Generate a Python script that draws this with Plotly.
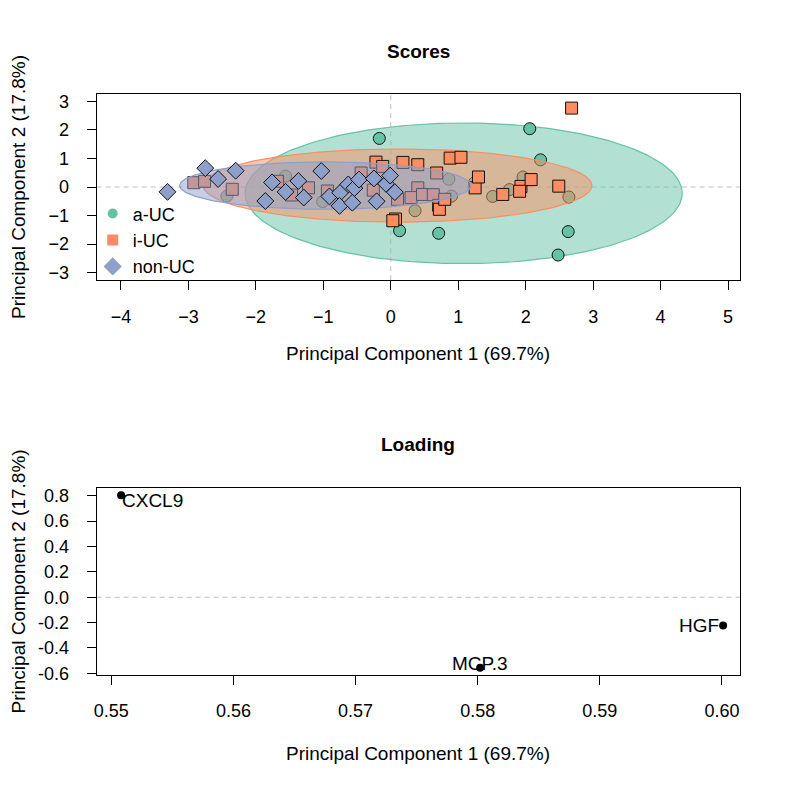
import numpy as np
import plotly.graph_objects as go

# ---------------- data ----------------
auc_pc1 = [-2.43, -1.56, -1.01, -0.17, 0.13, 0.36, 0.71, 0.86, 0.90, 1.24, 1.51, 1.76, 1.96, 2.06, 2.22, 2.64, 2.63, 2.48]
auc_pc2 = [-0.32, 0.38, -0.51, 1.70, -1.53, -0.83, -1.62, 0.27, -0.32, 0.15, -0.33, -0.09, 0.35, 2.04, 0.95, -0.35, -1.56, -2.38]

iuc_pc1 = [-2.92, -2.76, -2.35, -1.68, -1.47, -1.22, -0.94, -0.44, -0.22, -0.12, -0.26, 0.10, 0.07, 0.03,
           0.18, 0.40, 0.40, 0.30, 0.47, 0.63, 0.68, 0.71, 0.72, 0.80, 0.88, 1.04, 1.25, 1.30, 1.66, 1.93,
           1.91, 2.08, 2.49, 2.68]
iuc_pc2 = [0.15, 0.20, -0.08, 0.20, -0.28, -0.03, -0.14, 0.49, 0.87, 0.72, -0.11, -0.43, -1.12, -1.18,
           0.86, 0.78, -0.03, -0.37, -0.26, -0.27, 0.49, -0.64, -0.78, -0.43, 1.01, 1.04, -0.03, 0.35, -0.26, 0.02,
           -0.15, 0.26, 0.03, 2.76]

nonuc_pc1 = [-3.31, -2.75, -2.56, -2.30, -1.76, -1.86, -1.56, -1.37, -1.29, -1.03, -0.91, -0.75, -0.76,
             -0.63, -0.54, -0.57, -0.47, -0.25, -0.21, -0.07, -0.01, 0.06]
nonuc_pc2 = [-0.17, 0.66, 0.28, 0.57, 0.16, -0.49, -0.17, 0.21, -0.37, 0.56, -0.33, -0.20, -0.66,
             0.09, -0.04, -0.55, 0.26, 0.30, -0.50, 0.11, 0.40, -0.18]

groups = ["a-UC", "i-UC", "non-UC"]
group_colors = ["#66C2A5", "#FC8D62", "#8DA0CB"]
group_fills = ["rgba(102,194,165,0.5)", "rgba(252,141,98,0.5)", "rgba(141,160,203,0.5)"]
group_symbols = ["circle", "square", "diamond"]
group_sizes = [12, 12, 13]

ell_cx = [1.08, 0.10, -0.97]
ell_cy = [-0.22, 0.05, 0.05]
ell_rx = [3.24, 2.88, 2.16]
ell_ry = [2.46, 1.28, 0.83]

score_xticks = [-4, -3, -2, -1, 0, 1, 2, 3, 4, 5]
score_yticks = [-3, -2, -1, 0, 1, 2, 3]

load_vars = ["CXCL9", "HGF", "MCP.3"]
load_pc1 = [0.5508, 0.6001, 0.5802]
load_pc2 = [0.805, -0.222, -0.556]
load_xticks = [0.55, 0.56, 0.57, 0.58, 0.59, 0.60]
load_xlabels = ["0.55", "0.56", "0.57", "0.58", "0.59", "0.60"]
load_yticks = [-0.6, -0.4, -0.2, 0.0, 0.2, 0.4, 0.6, 0.8]
load_ylabels = ["-0.6", "-0.4", "-0.2", "0.0", "0.2", "0.4", "0.6", "0.8"]

title_top = "Scores"
title_bottom = "Loading"
xlab = "Principal Component 1 (69.7%)"
ylab = "Principal Component 2 (17.8%)"

# ---------------- figure ----------------
OFF = 8                      # page body margin of the html page
W, H = 800 - OFF, 799 - OFF
FONT = "Liberation Sans, Arial, sans-serif"
FS = 19
FS_TICK = 18

def px_x(p):
    return (p - OFF) / W

def px_y(p):
    return 1 - (p - OFF) / H

fig = go.Figure()

pts = [(auc_pc1, auc_pc2), (iuc_pc1, iuc_pc2), (nonuc_pc1, nonuc_pc2)]
t = np.linspace(0, 2 * np.pi, 240)
for i, g in enumerate(groups):
    ex = ell_cx[i] + ell_rx[i] * np.cos(t)
    ey = ell_cy[i] + ell_ry[i] * np.sin(t)
    fig.add_trace(go.Scatter(x=ex, y=ey, mode="lines", fill="toself",
                             fillcolor=group_fills[i],
                             line=dict(color=group_colors[i], width=1.2),
                             hoverinfo="skip", showlegend=False, xaxis="x", yaxis="y"))
    fig.add_trace(go.Scatter(x=pts[i][0], y=pts[i][1], mode="markers",
                             marker=dict(symbol=group_symbols[i], size=group_sizes[i],
                                         color=group_colors[i],
                                         line=dict(color="#111111", width=1)),
                             showlegend=False, xaxis="x", yaxis="y"))

# legend entries (filled symbols without border, as in base R legend)
legend_sizes = [10, 11, 14]
for i, g in enumerate(groups):
    fig.add_trace(go.Scatter(x=[None], y=[None], mode="markers", name=g,
                             marker=dict(symbol=group_symbols[i], size=legend_sizes[i],
                                         color=group_colors[i], line=dict(width=0)),
                             showlegend=True, xaxis="x", yaxis="y"))

# loadings
fig.add_trace(go.Scatter(x=load_pc1, y=load_pc2, mode="markers",
                         marker=dict(color="black", size=8),
                         showlegend=False, xaxis="x2", yaxis="y2"))

label_pos = {"CXCL9": ("left", -1, -5), "HGF": ("right", -2, 0), "MCP.3": ("center", 0, 4)}
annotations = []
for v, x, y in zip(load_vars, load_pc1, load_pc2):
    anc, dx, dy = label_pos[v]
    annotations.append(dict(x=x, y=y, xref="x2", yref="y2", text=v, showarrow=False,
                            xanchor=anc, yanchor="middle", xshift=dx, yshift=dy,
                            font=dict(family=FONT, size=FS, color="black")))

dom_x = [px_x(94), px_x(740)]
dom_y1 = [px_y(282), px_y(93)]
dom_y2 = [px_y(682), px_y(493)]
cx = (dom_x[0] + dom_x[1]) / 2

def txt(x, y, s, angle=0):
    return dict(x=x, y=y, xref="paper", yref="paper", text=s, showarrow=False, textangle=angle,
                xanchor="center", yanchor="middle", font=dict(family=FONT, size=FS, color="black"))

annotations += [
    txt(cx, px_y(50), "<b>%s</b>" % title_top),
    txt(cx, px_y(449), "<b>%s</b>" % title_bottom),
    txt(cx, px_y(356), xlab),
    txt(cx, px_y(762), xlab),
    txt(px_x(15), (dom_y1[0] + dom_y1[1]) / 2, ylab, -90),
    txt(px_x(15), (dom_y2[0] + dom_y2[1]) / 2, ylab, -90),
]

axis_common = dict(showgrid=False, zeroline=False, showline=True, mirror=True,
                   linecolor="black", linewidth=1, ticks="outside", ticklen=9,
                   tickwidth=1, tickcolor="black",
                   tickfont=dict(family=FONT, size=FS_TICK, color="black"))

dash = dict(color="#BEBEBE", width=1, dash="5px,4px")
fig.update_layout(
    width=W, height=H, margin=dict(l=0, r=0, t=0, b=0),
    paper_bgcolor="white", plot_bgcolor="white",
    xaxis=dict(domain=dom_x, anchor="y", range=[-4.36, 5.18], tickvals=score_xticks,
               ticklabelstandoff=11, **axis_common),
    yaxis=dict(domain=dom_y1, anchor="x", range=[-3.26, 3.26], tickvals=score_yticks,
               ticklabelstandoff=14, **axis_common),
    xaxis2=dict(domain=dom_x, anchor="y2", range=[0.5488, 0.6015], tickvals=load_xticks,
                ticktext=load_xlabels, ticklabelstandoff=11, **axis_common),
    yaxis2=dict(domain=dom_y2, anchor="x2", range=[-0.6105, 0.8595], tickvals=load_yticks,
                ticktext=load_ylabels, ticklabelstandoff=14, **axis_common),
    shapes=[
        dict(type="line", xref="x", yref="y domain", x0=0, x1=0, y0=0, y1=1, layer="below", line=dash),
        dict(type="line", xref="x domain", yref="y", x0=0, x1=1, y0=0, y1=0, layer="below", line=dash),
        dict(type="line", xref="x2 domain", yref="y2", x0=0, x1=1, y0=0, y1=0, layer="below", line=dash),
    ],
    legend=dict(x=px_x(90), y=px_y(196), xanchor="left", yanchor="top",
                bgcolor="rgba(0,0,0,0)", borderwidth=0, tracegroupgap=0,
                itemwidth=30, font=dict(family=FONT, size=18, color="black")),
    annotations=annotations,
    showlegend=True,
)

fig.write_html("out.html")
